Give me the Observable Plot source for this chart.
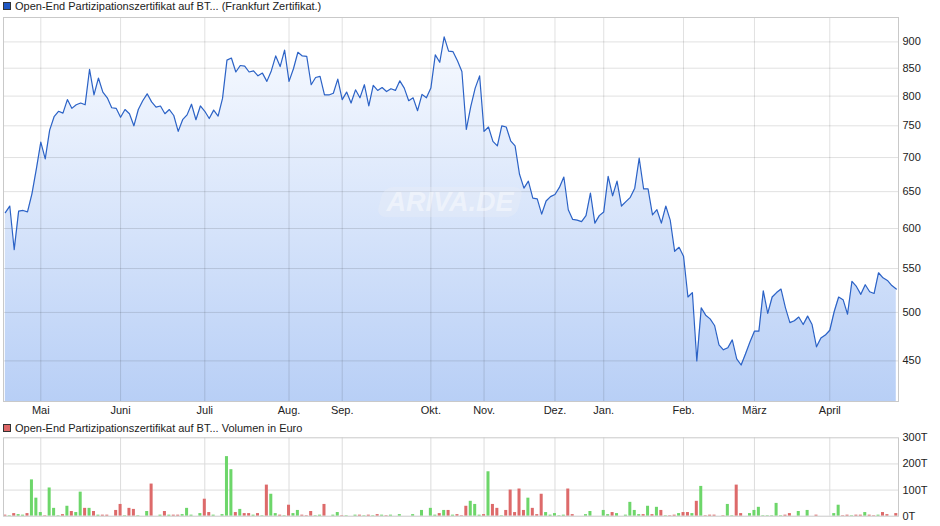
<!DOCTYPE html>
<html><head><meta charset="utf-8">
<script src="https://cdn.jsdelivr.net/npm/d3@7"></script>
<script src="https://cdn.jsdelivr.net/npm/@observablehq/plot@0.6"></script>
<style>
body{margin:0;background:#fff;font-family:"Liberation Sans",Arial,sans-serif;}
#wrap{position:relative;width:940px;height:526px;overflow:hidden;background:#fff;}
#wrap svg{position:absolute;left:0;}
.leg{position:absolute;left:3px;font-size:11px;color:#222;white-space:nowrap;line-height:12px;}
.sq{display:inline-block;width:6px;height:6px;border:1px solid #333;margin-right:4px;vertical-align:0px;}
.wm{position:absolute;left:380px;top:187px;width:140px;height:30px;border-radius:9px;transform:skewX(-14deg);
 background:rgba(235,238,245,0.35);pointer-events:none;}
.wmt{position:absolute;left:380px;top:187px;width:140px;height:30px;line-height:30px;text-align:center;
 font:italic bold 27px "Liberation Sans",Arial,sans-serif;color:rgba(255,255,255,0.45);pointer-events:none;letter-spacing:0px;}
</style></head>
<body><div id="wrap"></div>
<script>
// ---- data ----
const price = [621,630,573,623,624,622,647,683,724,698,
743,765,774,771,794,779,785,788,785,848,
802,832,807,797,780,779,764,777,770,750,
777,792,804,790,781,783,770,777,767,741,
760,768,786,760,783,774,762,776,766,796,
865,869,843,855,854,843,845,836,841,826,
845,873,853,884,826,849,880,873,872,820,
833,835,802,802,805,830,794,807,788,811,
797,820,783,819,810,815,808,813,810,827,
814,792,797,775,803,797,814,875,861,910,
882,881,864,844,744,782,814,836,741,748,
725,718,750,748,726,718,675,655,665,641,
640,619,637,643,646,656,671,625,612,611,
609,617,648,607,617,622,672,644,665,630,
636,642,655,699,654,654,618,625,607,630,
611,571,576,565,517,522,450,505,497,493,
486,466,461,463,471,452,446,457,469,480,
480,524,499,517,522,526,505,489,491,495,
487,496,487,464,473,476,481,501,517,514,
498,535,529,520,531,523,521,545,539,536,
530,526];
const volume = [4,2,10,6,4,10,139,69,14,2,
108,30,2,6,38,18,14,92,30,30,
18,4,4,4,0,22,45,2,30,26,
2,0,18,123,0,4,18,4,4,4,
6,30,4,0,10,65,14,4,0,6,
228,178,14,26,10,10,4,10,2,119,
84,10,4,2,42,10,22,4,2,18,
2,4,45,0,4,14,2,2,0,4,
4,2,4,2,6,4,2,4,0,6,
0,0,6,0,22,0,30,4,10,22,
22,4,6,2,38,57,45,4,6,170,
45,30,2,22,100,14,104,22,69,30,
6,84,14,4,10,2,4,104,6,0,
0,6,18,0,0,22,6,14,10,0,
4,53,22,6,6,38,6,34,22,2,
2,4,10,14,14,10,57,114,2,4,
4,0,2,45,2,119,10,0,10,22,
34,2,2,2,49,2,4,10,0,18,
0,22,0,4,0,0,0,10,42,2,
4,2,4,4,14,4,2,4,14,6,
0,10];
const direction = ["duduuduuud","uuududuudu","dudd-ddudd","u-ud-ududd","uuu-uddu-u",
"uududdudud","uududuuddd","uud-uudu-u","dudududu-u","--u-u-uudu",
"duddduuudu","ddudddddud","dduuuuudd-","-uu--uudu-","uuuudududu",
"dduddududd","d-duudd-uu","uuuuuudd-u","-u-d---uud","dudduddudd","-d"].join("").split("");
const monthIdx = [8,26,45,64,76,96,108,124,135,153,169,186];
const monthLabels = ["Mai","Juni","Juli","Aug.","Sep.","Okt.","Nov.","Dez.","Jan.","Feb.","März","April"];
const priceTicks = [450,500,550,600,650,700,750,800,850,900];
const volTicks = [0,100,200,300];
const volGrid = [100,200];
const priceDomain = [412,949];
const volDomain = [0,300];
const xDomain = [-0.415,201.5];
const title1 = "Open-End Partizipationszertifikat auf BT... (Frankfurt Zertifikat.)";
const title2 = "Open-End Partizipationszertifikat auf BT... Volumen in Euro";

// ---- build ----
const rows = price.map((p,i)=>({i, p, v: volume[i], d: direction[i]}));
const font = {fontFamily:'"Liberation Sans",Arial,sans-serif', fontSize:"11px", color:"#222", background:"transparent"};
const grid = {stroke:"#000", strokeOpacity:0.12};

const svg1 = Plot.plot({
  width:940, height:420, marginTop:17, marginBottom:19, marginLeft:3, marginRight:42,
  style: font,
  x:{domain:xDomain, ticks:monthIdx, tickFormat:d=>monthLabels[monthIdx.indexOf(d)], tickSize:0, tickPadding:5, label:null},
  y:{type:"log", domain:priceDomain, ticks:priceTicks, tickFormat:d=>String(d), axis:"right", tickSize:0, tickPadding:4, label:null},
  marks:[
    Plot.areaY(rows,{x:"i", y1:priceDomain[0], y2:"p", fill:"url(#pg)"}),
    Plot.ruleY(priceTicks, grid),
    Plot.ruleX(monthIdx, grid),
    Plot.line(rows,{x:"i", y:"p", stroke:"#2b62c6", strokeWidth:1.2}),
    Plot.frame({stroke:"#c9c9c9"})
  ]
});
const ns="http://www.w3.org/2000/svg";
const defs=document.createElementNS(ns,"defs");
defs.innerHTML='<linearGradient id="pg" x1="0" y1="0" x2="0" y2="1"><stop offset="0" stop-color="#f7faff"/><stop offset="1" stop-color="#b8cff6"/></linearGradient>';
svg1.insertBefore(defs, svg1.firstChild);
svg1.style.top="0px";

const svg2 = Plot.plot({
  width:940, height:106, marginTop:17.3, marginBottom:10.3, marginLeft:3, marginRight:42,
  style: font,
  color:{type:"identity"},
  x:{domain:xDomain, axis:null},
  y:{domain:volDomain, ticks:volTicks, tickFormat:d=>d+"T", axis:"right", tickSize:0, tickPadding:4, label:null},
  marks:[
    Plot.ruleX(monthIdx,{stroke:"#dcdcdc"}),
    Plot.ruleY(volGrid,{stroke:"#dcdcdc"}),
    Plot.rect(rows.filter(r=>r.v>0),{x1:r=>r.i-0.34, x2:r=>r.i+0.34, y1:0, y2:"v",
      fill:r=>r.d==="u"?"#6dd66a":"#dd6a6a"}),
    Plot.frame({stroke:"#c9c9c9"})
  ]
});
svg2.style.top="420px";

const wrap=document.getElementById("wrap");
wrap.appendChild(svg1);
wrap.appendChild(svg2);
const wm=document.createElement("div"); wm.className="wm"; wrap.appendChild(wm);
const wmt=document.createElement("div"); wmt.className="wmt"; wmt.textContent="ARIVA.DE"; wrap.appendChild(wmt);
function legend(text,color,top){
  const d=document.createElement("div"); d.className="leg"; d.style.top=top+"px";
  const s=document.createElement("span"); s.className="sq"; s.style.background=color;
  d.appendChild(s); d.appendChild(document.createTextNode(text)); wrap.appendChild(d);
}
legend(title1,"#1f57c3",0);
legend(title2,"#dd6666",422);
</script></body></html>
